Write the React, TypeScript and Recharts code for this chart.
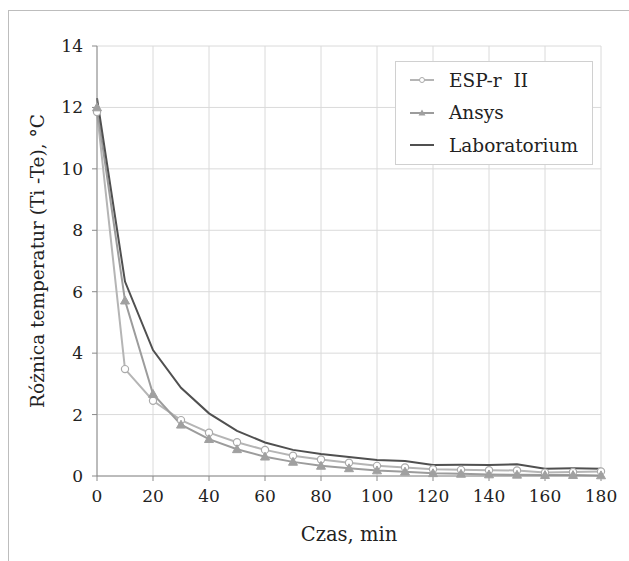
import {
  LineChart,
  Line,
  XAxis,
  YAxis,
  CartesianGrid,
} from "recharts";

const TIME = [0, 10, 20, 30, 40, 50, 60, 70, 80, 90, 100, 110, 120, 130, 140, 150, 160, 170, 180];
const ESP = [11.85, 3.48, 2.45, 1.82, 1.41, 1.1, 0.85, 0.66, 0.54, 0.43, 0.33, 0.28, 0.22, 0.2, 0.19, 0.18, 0.11, 0.13, 0.15];
const ANSYS = [12.0, 5.71, 2.67, 1.67, 1.2, 0.87, 0.63, 0.46, 0.33, 0.25, 0.18, 0.14, 0.09, 0.07, 0.05, 0.04, 0.03, 0.03, 0.02];
const LAB = [12.3, 6.33, 4.1, 2.87, 2.04, 1.47, 1.09, 0.85, 0.72, 0.62, 0.52, 0.49, 0.36, 0.37, 0.36, 0.38, 0.24, 0.25, 0.24];

const X_TICKS = [0, 20, 40, 60, 80, 100, 120, 140, 160, 180];
const Y_TICKS = [0, 2, 4, 6, 8, 10, 12, 14];

const SERIES = [
  { key: "esp", name: "ESP-r  II", color: "#b5b5b5", marker: "circle" },
  { key: "ansys", name: "Ansys", color: "#9c9c9c", marker: "triangle" },
  { key: "lab", name: "Laboratorium", color: "#505050", marker: "none" },
];

const data = TIME.map((t, i) => ({ t, esp: ESP[i], ansys: ANSYS[i], lab: LAB[i] }));

const FONT = "'DejaVu Serif', serif";

const CircleDot = (props: any) => {
  const { cx, cy } = props;
  if (cx == null || cy == null) return null;
  return <circle cx={cx} cy={cy} r={3.6} fill="#fff" stroke="#aaaaaa" strokeWidth={1.2} />;
};

const TriangleDot = (props: any) => {
  const { cx, cy } = props;
  if (cx == null || cy == null) return null;
  const s = 4.5;
  return (
    <polygon
      points={`${cx},${cy - s} ${cx - s},${cy + s * 0.75} ${cx + s},${cy + s * 0.75}`}
      fill="#a0a0a0"
      stroke="#a0a0a0"
    />
  );
};

const LegendIcon = ({ color, marker }: { color: string; marker: string }) => (
  <svg width={24} height={12} style={{ marginRight: 15 }}>
    <line x1={0} y1={6} x2={24} y2={6} stroke={color} strokeWidth={2} />
    {marker === "circle" && <circle cx={12} cy={6} r={2.5} fill="#fff" stroke="#aaa" />}
    {marker === "triangle" && <polygon points="12,2.5 8.5,8.5 15.5,8.5" fill="#a0a0a0" />}
  </svg>
);

// legend drawn as an overlay so it does not eat into the plot area
const LegendBox = () => (
  <div
    style={{
      position: "absolute",
      left: 386,
      top: 50,
      width: 198,
      boxSizing: "border-box",
      border: "1px solid #d0d0d0",
      background: "#fff",
      padding: "2px 0 2px 14px",
      fontFamily: FONT,
      fontSize: 18.5,
      color: "#222",
    }}
  >
    {SERIES.map((s) => (
      <div key={s.key} style={{ display: "flex", alignItems: "center", height: 32.5 }}>
        <LegendIcon color={s.color} marker={s.marker} />
        <span style={{ whiteSpace: "pre" }}>{s.name}</span>
      </div>
    ))}
  </div>
);

export default function App() {
  return (
    <div
      style={{
        position: "absolute",
        left: 8,
        top: 10,
        width: 621,
        height: 551,
        borderTop: "1px solid #bdbdbd",
        borderLeft: "1px solid #bdbdbd",
        boxSizing: "border-box",
        background: "#fff",
      }}
    >
      <LineChart
        width={612}
        height={550}
        data={data}
        margin={{ top: 35, right: 20, bottom: 0, left: 0 }}
      >
        <CartesianGrid stroke="#dadada" strokeWidth={1} />
        <XAxis
          dataKey="t"
          type="number"
          domain={[0, 180]}
          ticks={X_TICKS}
          interval={0}
          height={85}
          tickSize={5}
          tickMargin={9}
          stroke="#8a8a8a"
          tick={{ fill: "#222", fontSize: 17, fontFamily: FONT }}
          label={{
            value: "Czas, min",
            position: "insideBottom",
            offset: 20,
            style: { fill: "#222", fontSize: 19.5, fontFamily: FONT },
          }}
        />
        <YAxis
          type="number"
          domain={[0, 14]}
          ticks={Y_TICKS}
          interval={0}
          width={88}
          tickSize={5}
          tickMargin={9}
          stroke="#8a8a8a"
          tick={{ fill: "#222", fontSize: 17, fontFamily: FONT }}
          label={{
            value: "Różnica temperatur (Ti -Te), °C",
            angle: -90,
            position: "insideLeft",
            offset: 28,
            style: { fill: "#222", fontSize: 18.5, fontFamily: FONT, textAnchor: "middle" },
          }}
        />
        <Line
          dataKey="esp"
          name="ESP-r  II"
          stroke="#b5b5b5"
          strokeWidth={2}
          dot={<CircleDot />}
          isAnimationActive={false}
        />
        <Line
          dataKey="ansys"
          name="Ansys"
          stroke="#9c9c9c"
          strokeWidth={2}
          dot={<TriangleDot />}
          isAnimationActive={false}
        />
        <Line
          dataKey="lab"
          name="Laboratorium"
          stroke="#505050"
          strokeWidth={2}
          dot={false}
          isAnimationActive={false}
        />
      </LineChart>
      <LegendBox />
    </div>
  );
}
